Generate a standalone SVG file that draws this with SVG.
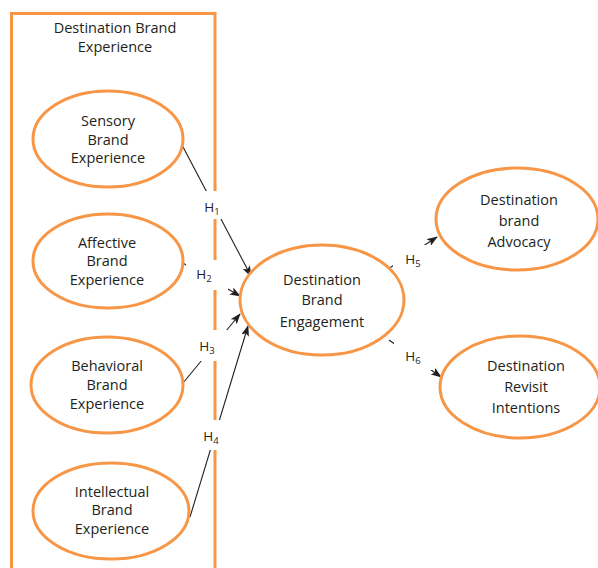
<svg xmlns="http://www.w3.org/2000/svg" width="598" height="568" viewBox="0 0 598 568">
<defs>
<style>
.node{fill:#ffffff;stroke:#f79646;stroke-width:3}
.frame{fill:none;stroke:#f79646;stroke-width:3}
.t{font-family:"Open Sans","Noto Sans",sans-serif;font-size:14.5px;fill:#231f20;text-anchor:middle}
.h{font-family:"Open Sans","Noto Sans",sans-serif;font-size:13.5px;fill:#231f20;text-anchor:middle}
.sub{font-size:9.5px}
.c{stroke:#231f20;stroke-width:1.1;fill:none;marker-end:url(#arr)}
.gap{fill:#ffffff;stroke:none}
</style>
<marker id="arr" markerWidth="11" markerHeight="8" refX="10" refY="4" orient="auto" markerUnits="userSpaceOnUse">
<path d="M0,0 L11,4 L0,8 L2.5,4 Z" fill="#231f20"/>
</marker>
</defs>
<rect width="598" height="568" fill="#ffffff"/>
<g id="frame">
<path class="frame" d="M11.5,572 V13.5 H215 V572"/>
<text class="t" x="115" y="33">Destination Brand</text>
<text class="t" x="115" y="52">Experience</text>
</g>
<g id="connectors">
<line class="c" x1="182" y1="145" x2="251" y2="276"/>
<line class="c" x1="181" y1="262" x2="240" y2="296"/>
<line class="c" x1="183" y1="383" x2="240" y2="314"/>
<line class="c" x1="190" y1="517" x2="248" y2="326"/>
<line class="c" x1="388" y1="269" x2="437" y2="237"/>
<line class="c" x1="389" y1="340" x2="441" y2="377"/>
<rect class="gap" x="195" y="191" width="31" height="28"/>
<rect class="gap" x="186" y="260" width="42" height="30"/>
<rect class="gap" x="190" y="330" width="37" height="31"/>
<rect class="gap" x="195" y="420" width="30" height="30"/>
<rect class="gap" x="393" y="245" width="33" height="24"/>
<rect class="gap" x="394" y="343" width="40" height="27"/>
<text class="h" x="212" y="212">H<tspan class="sub" dy="3">1</tspan></text>
<text class="h" x="204" y="279">H<tspan class="sub" dy="3">2</tspan></text>
<text class="h" x="207" y="351">H<tspan class="sub" dy="3">3</tspan></text>
<text class="h" x="211" y="441">H<tspan class="sub" dy="3">4</tspan></text>
<text class="h" x="413" y="264">H<tspan class="sub" dy="3">5</tspan></text>
<text class="h" x="413" y="361">H<tspan class="sub" dy="3">6</tspan></text>
</g>
<g id="sensory">
<ellipse class="node" cx="108" cy="139" rx="75" ry="48"/>
<text class="t" x="108" y="126">Sensory</text>
<text class="t" x="108" y="145">Brand</text>
<text class="t" x="108" y="163">Experience</text>
</g>
<g id="affective">
<ellipse class="node" cx="108" cy="261" rx="75" ry="47"/>
<text class="t" x="107" y="248">Affective</text>
<text class="t" x="107" y="266">Brand</text>
<text class="t" x="107" y="285">Experience</text>
</g>
<g id="behavioral">
<ellipse class="node" cx="107" cy="385" rx="76" ry="48"/>
<text class="t" x="107" y="371">Behavioral</text>
<text class="t" x="107" y="390">Brand</text>
<text class="t" x="107" y="409">Experience</text>
</g>
<g id="intellectual">
<ellipse class="node" cx="111" cy="511" rx="78" ry="48"/>
<text class="t" x="112" y="497">Intellectual</text>
<text class="t" x="112" y="515">Brand</text>
<text class="t" x="112" y="534">Experience</text>
</g>
<g id="engagement">
<ellipse class="node" cx="322" cy="300" rx="82" ry="55"/>
<text class="t" x="322" y="285">Destination</text>
<text class="t" x="322" y="305">Brand</text>
<text class="t" x="322" y="327">Engagement</text>
</g>
<g id="advocacy">
<ellipse class="node" cx="517" cy="219" rx="81" ry="51"/>
<text class="t" x="519" y="205">Destination</text>
<text class="t" x="519" y="226">brand</text>
<text class="t" x="519" y="247">Advocacy</text>
</g>
<g id="revisit">
<ellipse class="node" cx="520" cy="387" rx="80" ry="51"/>
<text class="t" x="526" y="371">Destination</text>
<text class="t" x="526" y="392">Revisit</text>
<text class="t" x="526" y="413">Intentions</text>
</g>
</svg>
